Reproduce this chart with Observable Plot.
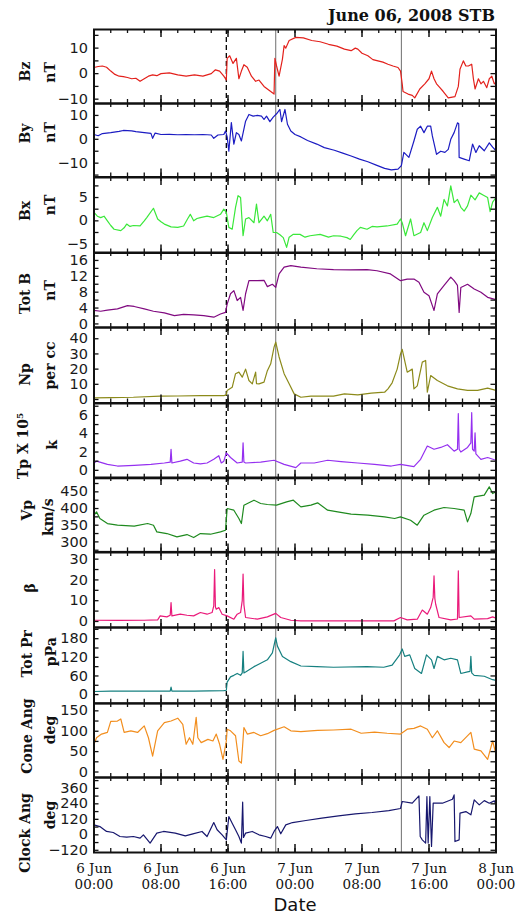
<!DOCTYPE html>
<html><head><meta charset="utf-8">
<script src="https://cdn.jsdelivr.net/npm/d3@7"></script>
<script src="https://cdn.jsdelivr.net/npm/@observablehq/plot@0.6"></script>
<style>
body{margin:0;background:#fff;width:517px;height:920px;overflow:hidden;}
#chart{position:relative;width:517px;height:920px;}
#title{position:absolute;right:22px;top:8px;font:bold 16px "DejaVu Serif",serif;line-height:16px;color:#111;}
.panel{position:absolute;left:0;}
</style></head><body><div id="chart"><div id="title">June 06, 2008 STB</div></div>
<script>
// ---- data: [hour since 6 Jun 2008 00:00 UT, value] ----
const bz = [[0,2.4],[0.5,2.8],[1,3],[1.5,2.5],[2,1],[2.5,-0.3],[3,-1],[3.5,-1.2],[4,-1.5],[4.5,-2],[5,-1.8],[5.5,-3],[6,-2],[6.5,-1],[7,-0.5],[7.5,-0.8],[8,0],[9,0.3],[10,-0.5],[11,-1],[12,-0.5],[13,-1],[14,0],[14.5,1.5],[15,1],[15.5,-1],[15.8,-2.5],[15.9,6],[16.2,7],[16.6,4],[17.0,6],[17.3,-2],[17.6,1],[17.9,3.5],[18.3,2.5],[18.8,-1],[19.3,-3],[19.7,-2.5],[20.3,-5],[20.7,-6],[21.1,-7],[21.5,-8],[21.6,6],[21.8,3],[22.1,-1],[22.5,5.7],[22.7,11],[22.9,10],[23.3,13],[24.1,14.2],[25,14],[26,13],[27,12.5],[28,11.5],[29,10.8],[29.9,9.6],[30.7,9],[31.2,10],[31.5,9.6],[32,8],[32.7,7],[33.3,5.5],[33.9,5],[34.5,4.5],[35.1,3.7],[35.7,3],[36.3,2.4],[36.6,1],[36.8,-4],[36.9,-7],[37.5,-8],[38,-8.5],[38.3,-9.5],[38.9,-6],[39.5,-4],[40.0,-2],[40.3,1],[40.6,-2],[40.9,-4],[41.3,-5.5],[41.7,-7],[42.3,-9.5],[43.1,-9],[43.5,-5],[43.7,1.7],[44.1,5],[44.4,3],[44.7,3],[45.1,3.7],[45.3,-2],[45.5,-6],[45.9,-2],[46.2,-4],[46.5,-3],[46.9,-5.5],[47.2,-2],[47.5,-1],[47.8,-4],[48,-3.5]];
const by = [[0,2],[0.5,1.5],[1,2.4],[2,2.8],[3,3.3],[3.5,3.7],[4.5,3.5],[5,3.2],[6,2.8],[6.8,2.5],[7,0.4],[7.3,2.6],[8,2],[9,2.1],[10,1.9],[11,2],[12,1.9],[13,2],[14,1.8],[14.3,0.4],[14.8,1.8],[15.5,2],[15.7,3.5],[15.9,1],[16.1,-5],[16.4,7],[16.7,-2],[17,2.8],[17.3,2],[17.6,-0.7],[18.1,7.6],[18.5,10.4],[19,9.7],[19.5,10],[20,9.7],[20.3,8.3],[20.6,9.7],[21,7.4],[21.4,9.3],[21.8,10.7],[22.2,12.5],[22.4,7.4],[22.8,12.5],[23.1,6.3],[23.5,3.5],[24,2],[24.7,1],[25.5,-0.5],[26.6,-2],[27.5,-3.5],[28.7,-4.6],[29.7,-5.8],[30.7,-7],[31.7,-8.3],[32.7,-9.4],[33.7,-10.8],[34.7,-12.2],[35.5,-12.8],[36.3,-12.5],[36.7,-11],[37.0,-5.5],[37.6,-7.6],[38.2,-0.7],[38.6,4.2],[39.0,5.5],[39.4,2.8],[39.8,5.5],[40.2,5.5],[40.4,1.4],[40.9,-6.3],[41.4,-5],[41.9,-5.5],[42.3,-4.2],[42.6,0],[43.0,2.8],[43.4,6.9],[43.55,6.5],[43.6,-7.6],[44.2,-8.3],[44.8,-9],[45.2,-2],[45.6,-5.5],[46.0,-2.7],[46.6,-4.8],[47.2,-1.5],[47.6,-3.3],[48,-4.8]];
const bx = [[0,1.8],[0.4,1],[0.8,0.7],[1.2,1],[1.6,0],[2,-1],[2.4,-1.8],[3.2,-2.1],[3.6,-1.5],[3.9,-0.7],[4.3,-1.2],[4.7,-1],[5.5,-1.1],[6,0],[6.3,0.7],[7.1,2.7],[7.6,0.4],[8,-0.2],[8.4,-0.7],[9.2,-1.3],[10,-1.4],[10.7,-1.1],[11.2,0.5],[11.5,1.4],[11.9,0],[12.3,0.5],[12.7,0.7],[13.5,1],[14.3,0.7],[15.1,1.4],[15.5,2.5],[15.8,1.8],[16.1,-1.4],[16.5,-1.8],[16.9,2.9],[17.2,5.4],[17.5,5],[17.8,-3.2],[18.1,0.4],[18.5,0.7],[19.1,-0.4],[19.4,3.6],[19.7,-0.4],[20.3,1],[20.7,0],[21.1,1.4],[21.4,-2.5],[21.8,-2.5],[22.2,-3],[22.6,-3.6],[23.0,-5.7],[23.3,-3.5],[23.8,-2.9],[24.6,-2.9],[25.2,-3.5],[25.8,-3.2],[27,-2.9],[28,-3.5],[28.6,-3.2],[29.5,-3.3],[30.2,-3.6],[30.6,-4],[31,-3],[31.4,-2.1],[31.8,-1.4],[32.6,-1.8],[33.2,-1.2],[33.8,-1.3],[35,-1.1],[36.2,-0.7],[36.6,0.4],[36.8,-0.4],[37.2,-3.2],[37.8,0.4],[38.2,-3.2],[39,-2.5],[39.4,-0.4],[39.8,-2.1],[40.4,0.7],[41.0,2.9],[41.4,1],[41.8,4.6],[42.2,3.2],[42.6,7.5],[43.0,3.9],[43.4,4.6],[43.8,2.9],[44.2,2.1],[44.6,3.2],[45,5.5],[45.5,4.5],[46,6],[46.5,5.5],[47,5],[47.3,2],[47.6,4],[48,5]];
const totB = [[0,3.4],[0.8,3.2],[1.6,3.5],[2.8,3.8],[4.0,4.6],[4.8,4.4],[6,3.8],[7.1,3.2],[8.4,2.8],[9.6,2.1],[10.7,2.4],[11.9,2.3],[13.1,2.1],[14.3,1.7],[15.1,2.5],[15.7,2.9],[15.9,5],[16.3,7.6],[16.7,8.4],[17.1,5.9],[17.5,6.7],[17.8,3.4],[18.1,7.6],[18.5,10.9],[19.5,10.9],[20.3,11],[20.7,9.4],[21.3,10],[21.7,9.2],[22.1,12.6],[22.7,14.3],[23.5,14.7],[24.7,14.3],[26.6,13.9],[28.6,13.7],[30.6,13.6],[32.6,13.7],[33.8,13.4],[35.4,12.6],[36.6,10.9],[37.4,11.3],[38.2,11.3],[38.8,10.5],[39.4,8],[40.0,7.1],[40.4,4.6],[40.6,3.4],[41.0,7.6],[41.8,9.7],[42.6,11.8],[43.0,10.9],[43.4,9.7],[43.6,2.9],[43.8,9.2],[44.6,10],[45.4,8.8],[46.2,8],[47,6.7],[48,6.1]];
const np = [[0,1.1],[2,1.3],[4.7,1.5],[7.9,2.2],[10,2.3],[12.7,2.6],[15.5,2.6],[15.8,3],[15.9,6],[16.5,8],[16.9,17],[17.3,18],[17.7,14.7],[18.1,20],[18.5,12.5],[18.9,10.3],[19.3,18],[19.4,10.5],[19.7,10.3],[20.3,11.4],[20.7,19],[21.1,23.5],[21.5,34.5],[21.7,37.8],[22.1,28],[22.7,17],[23.3,10.3],[23.9,3.7],[24.7,1.5],[25.9,2.2],[28.6,2.2],[29.9,3.7],[31.5,3],[33.1,4.2],[34.7,4.8],[35.1,7],[35.6,11],[36.2,20],[36.6,30],[36.8,33],[37.4,18],[38.0,20],[38.2,7],[38.6,9],[39.2,24.6],[39.6,25.7],[39.8,4.8],[40.2,15.8],[41.0,12.5],[42.2,9],[43.4,7],[44.6,6],[45.8,6],[47,7.5],[48,6]];
const tp = [[0,0.8],[0.3,1],[0.7,0.9],[1.6,0.65],[2.8,0.47],[4.8,0.55],[6.8,0.65],[8.4,0.8],[9.1,0.9],[9.2,2.3],[9.3,0.8],[10.3,1],[11.1,1.2],[11.9,0.8],[12.7,0.7],[13.5,0.8],[14.3,1.2],[14.9,1.6],[15.2,0.8],[15.5,1],[15.8,1.9],[16.3,1.4],[17.1,0.8],[17.7,0.9],[17.8,3],[17.9,0.9],[18.1,0.8],[19.9,0.9],[21.5,1.1],[22.7,0.65],[24.1,0.3],[24.7,0.8],[26.3,0.8],[27.9,1.1],[29.5,0.95],[31.5,0.8],[33.5,0.65],[35.5,0.47],[36.6,0.65],[38.2,0.4],[39,1.2],[39.8,2.65],[40.6,2.3],[41.4,2.5],[42.2,2.8],[43,2.1],[43.4,2.3],[43.5,6.2],[43.6,2.3],[43.8,2],[44.6,2.5],[45.0,3],[45.1,6.3],[45.2,2.3],[45.4,2.1],[45.5,4.1],[45.6,1.8],[46.2,1.2],[47,1.4],[48,1.1]];
const vp = [[0,380],[0.3,390],[0.7,370],[1.6,355],[2.8,350],[4.8,347],[6.4,355],[7.1,350],[7.5,330],[8.7,325],[9.9,315],[11.1,322],[11.9,313],[12.7,325],[13.9,323],[15.1,330],[15.7,335],[15.9,400],[16.7,395],[17.3,370],[17.6,355],[17.9,410],[19.1,425],[19.9,415],[20.7,412],[21.8,410],[23,420],[23.8,425],[24.7,405],[25.9,410],[26.7,417],[27.9,395],[29.1,390],[30.7,383],[32.7,380],[34.7,375],[35.9,370],[36.6,375],[37.8,365],[38.6,350],[39.4,380],[40.6,395],[41.8,403],[43,400],[44.2,395],[44.6,360],[45,385],[45.4,435],[46.6,440],[47.2,465],[47.6,445],[48,450]];
const beta = [[0,0.6],[3,0.5],[6,0.6],[7.6,0.8],[7.9,2.7],[8.7,2.2],[9.1,3],[9.2,9.1],[9.3,2.7],[10.3,3.5],[11.1,3],[11.9,2.7],[12.7,4.3],[13.5,3.5],[14.1,4.3],[14.3,7.5],[14.4,25],[14.5,7],[14.6,5.9],[14.9,6.7],[15.3,3.5],[15.9,2.7],[16.7,1.1],[17.1,3.5],[17.5,4.3],[17.7,10],[17.8,22.8],[17.9,8],[18.1,1.9],[19.5,1.1],[20.7,2.2],[21.7,3.9],[22.3,1.9],[23.5,0.6],[24.7,0.3],[30,0.3],[35.8,0.3],[36.6,1.9],[37.4,0.8],[38.6,1.1],[39.2,5.5],[39.8,3.5],[40.2,6.7],[40.5,11.6],[40.6,22],[40.7,11],[40.8,8.3],[41.2,1.9],[42.6,0.8],[43.4,1.2],[43.5,24.4],[43.6,1.9],[45,2.7],[45.4,1.1],[47,1.4],[47.6,2.2],[48,1.6]];
const totPr = [[0,10],[2,11],[5,11],[9.1,11],[9.2,24],[9.3,11],[12,11],[15.5,13],[15.8,14],[15.9,40],[16.3,57],[16.7,62],[17.1,68],[17.5,62],[17.7,70],[17.8,139],[17.9,70],[18.1,73],[19.1,90],[19.9,101],[20.7,112],[21.3,134],[21.7,183],[21.9,156],[22.5,123],[23.5,106],[24.7,92],[26.6,90],[28.6,88],[32.6,90],[34.6,88],[35.6,95],[36.5,128],[36.8,147],[37.1,123],[37.7,128],[38.3,84],[39.1,68],[39.7,128],[40.3,112],[40.6,84],[41,123],[41.8,112],[42.6,117],[43.4,112],[43.8,68],[44.6,73],[44.9,75],[45.0,123],[45.1,70],[45.4,62],[46.6,59],[47.6,48],[48,46]];
const coneAng = [[0,68],[0.3,84],[0.9,93],[1.6,97],[2.0,124],[2.8,125],[3.2,130],[3.6,97],[4.4,101],[5.2,97],[6.0,113],[6.5,84],[7.0,39],[7.6,101],[8.4,121],[9.2,125],[10.0,132],[10.6,117],[11.0,68],[11.4,84],[11.8,68],[12.2,134],[12.4,84],[12.8,72],[13.6,80],[14.2,76],[14.6,93],[15.0,68],[15.4,31],[15.8,76],[15.9,105],[16.3,101],[16.9,89],[17.3,27],[17.6,22],[17.9,109],[18.3,93],[19.1,97],[19.9,89],[20.7,94],[21.5,102],[22.7,111],[23.5,101],[24.7,99],[26.7,102],[28.6,103],[30.7,105],[31.9,95],[33.5,98],[35,95],[36.6,93],[37.4,105],[38.2,107],[39,113],[39.8,105],[40.4,84],[41,101],[41.8,72],[42.4,60],[43,76],[43.8,72],[45,97],[45.4,56],[46.2,52],[47,31],[47.6,76],[48,43]];
const clockAng = [[0,77],[0.7,64],[1.5,26],[2.3,18],[3.1,-13],[3.9,-18],[4.7,-13],[5.5,-26],[5.9,0],[6.7,-64],[7.5,13],[8.3,26],[9.7,13],[10.9,-8],[11.7,5],[12.9,26],[13.5,-13],[14.3,95],[14.7,39],[15.3,0],[15.8,-39],[16.1,142],[16.5,90],[16.9,39],[17.3,-13],[17.6,-64],[17.75,253],[17.85,-20],[18.1,13],[18.9,26],[19.7,0],[20.5,-13],[21.1,-26],[21.5,26],[21.9,64],[22.3,8],[22.9,77],[23.7,95],[25.3,111],[27.2,129],[29.2,147],[31.2,162],[33.2,173],[35.2,188],[36.6,204],[36.8,258],[38,245],[38.8,302],[38.95,-13],[39.2,-39],[39.6,-64],[39.75,296],[39.9,-64],[40.1,296],[40.3,-90],[40.5,245],[41.6,245],[42.8,276],[43.0,309],[43.1,-52],[43.6,-39],[43.7,168],[44.4,180],[45.0,155],[45.4,271],[46.0,232],[46.6,265],[47.2,245],[47.8,263],[48,232]];

const yLabels = ["Bz","By","Bx","Tot B","Np","Tp X 10\u2075","Vp","\u03B2","Tot Pr","Cone Ang","Clock Ang"];
const yUnits = ["nT","nT","nT","nT","per cc","k","km/s","","pPa","deg","deg"];
const yTickValues = [[-10,0,10],[-10,0,10],[-5,0,5],[0,4,8,12,16],[0,10,20,30,40],[0,2,4,6],[300,350,400,450],[0,10,20,30],[0,60,120,180],[0,50,100,150],[-120,0,120,240,360]];
const xTickValues = [0,8,16,24,32,40,48];
const xTickLabels = ["6 Jun\n00:00","6 Jun\n08:00","6 Jun\n16:00","7 Jun\n00:00","7 Jun\n08:00","7 Jun\n16:00","8 Jun\n00:00"];
const shockTimes = [15.8];
const boundaryTimes = [21.7, 36.7];

// ---- layout / style ----
const series = [bz, by, bx, totB, np, tp, vp, beta, totPr, coneAng, clockAng];
const colors = ["#e3211c","#1c1cc2","#3ae83a","#800a80","#8c8a1a","#9530f0","#1f8a1f","#ea1a7a","#168080","#f28e1e","#17176e"];
const domains = [[-11.7,17.3],[-15.8,15],[-6.9,9.3],[-0.9,18],[-2.3,47.4],[-0.87,7.3],[270,493],[-2.9,33.2],[-28,216],[-13.5,168],[-137,444]];
const minorSteps = [5,5,2.5,2,10,1,25,5,30,25,60];
const tops = [29,103,176.5,252,327,402.5,477.3,551.7,626.7,702.5,776.5,851.5];
const labelY = [71,133,210,293,374,445,510,587,653,735,832];
const unitY = [72,132,204,290,365,444,517,0,651,729,814];
const labelX = [25,25,25,25,25,23,27,30,27,27,25];
const unitX = [50,50,50,50,50,52,48,50,51,50,50];

const W = 517, ML = 93.5, MR = 21.5, plotW = W - ML - MR;
const serif = "'DejaVu Serif', serif", sans = "'DejaVu Sans', sans-serif";
const chart = document.getElementById("chart");
const xMinor = d3.range(0, 49, 2);

series.forEach((data, i) => {
  const top = tops[i], h = tops[i+1] - top;
  const last = i === series.length - 1;
  const mb = last ? 70 : 1;
  const dom = domains[i], st = minorSteps[i];
  const yMinor = d3.range(Math.ceil(dom[0]/st)*st, dom[1], st);
  const mid = top + h/2;
  const marks = [
    Plot.ruleX(shockTimes, {stroke: "#000", strokeWidth: 1.3, strokeDasharray: "5,3"}),
    Plot.ruleX(boundaryTimes, {stroke: "#6e6e6e", strokeWidth: 1}),
    Plot.line(data, {x: d => d[0], y: d => d[1], stroke: colors[i], strokeWidth: 1.2, clip: true}),
    Plot.tickX(xMinor, {x: d => d, insetBottom: h - 4, stroke: "#111", strokeWidth: 1.3}),
    Plot.tickX(xMinor, {x: d => d, insetTop: h - 4, stroke: "#111", strokeWidth: 1.3}),
    Plot.tickX(xTickValues, {x: d => d, insetBottom: h - 8, stroke: "#111", strokeWidth: 1.5}),
    Plot.tickX(xTickValues, {x: d => d, insetTop: h - 8, stroke: "#111", strokeWidth: 1.5}),
    Plot.tickY(yMinor, {y: d => d, insetRight: plotW - 5, stroke: "#111", strokeWidth: 1.3}),
    Plot.tickY(yMinor, {y: d => d, insetLeft: plotW - 5, stroke: "#111", strokeWidth: 1.3}),
    Plot.axisY(yTickValues[i], {tickSize: 0, tickPadding: 6, fontSize: 14.5, fontFamily: sans, fill: "#1a1a1a", label: null}),
    Plot.frame({stroke: "#111", strokeWidth: 2}),
    Plot.text([yLabels[i]], {frameAnchor: "left", dx: labelX[i] - ML, dy: labelY[i] - mid, rotate: -90,
      fontFamily: serif, fontWeight: "bold", fontSize: 14, fill: "#111", textAnchor: "middle"})
  ];
  if (yUnits[i]) marks.push(Plot.text([yUnits[i]], {frameAnchor: "left", dx: unitX[i] - ML, dy: unitY[i] - mid, rotate: -90,
      fontFamily: serif, fontWeight: "bold", fontSize: 14, fill: "#111", textAnchor: "middle"}));
  if (last) {
    marks.push(Plot.axisX(xTickValues, {tickSize: 0, tickPadding: 9, fontSize: 13.5, fontFamily: serif, fill: "#111",
      lineHeight: 1.2, label: null, tickFormat: d => xTickLabels[xTickValues.indexOf(d)]}));
    marks.push(Plot.text(["Date"], {frameAnchor: "bottom", dy: 58, fontSize: 18, fontFamily: sans, fill: "#111"}));
  }
  const svg = Plot.plot({
    width: W, height: h + 1 + mb,
    marginLeft: ML, marginRight: MR, marginTop: 1, marginBottom: mb,
    x: {domain: [0, 48], axis: null},
    y: {domain: dom, axis: null},
    style: {overflow: "visible", background: "transparent"},
    marks
  });
  svg.classList.add("panel");
  svg.style.top = (top - 1) + "px";
  svg.style.position = "absolute";
  chart.appendChild(svg);
});
</script>
</body></html>
